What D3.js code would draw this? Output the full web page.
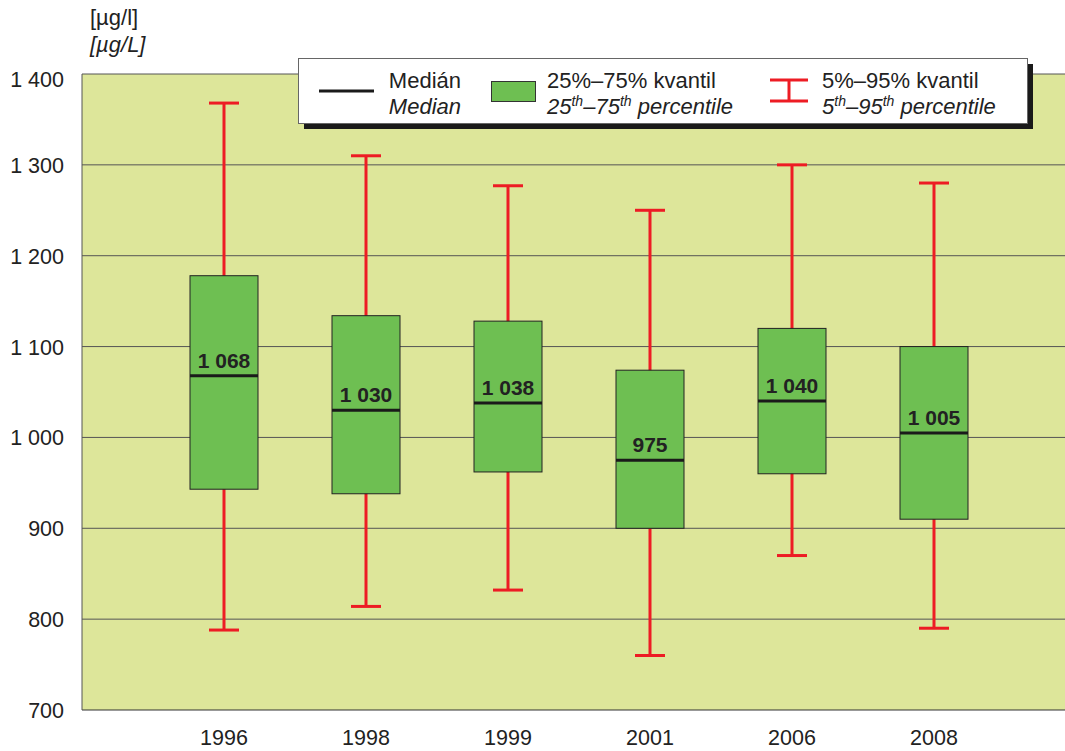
<!DOCTYPE html>
<html>
<head>
<meta charset="utf-8">
<script src="https://cdn.jsdelivr.net/npm/d3@7"></script>
<style>
  body { margin: 0; background: #fff; }
  text { font-family: "Liberation Sans", Arial, sans-serif; }
</style>
</head>
<body>
<div id="chart"></div>
<script>
// Data
const years = ['1996', '1998', '1999', '2001', '2006', '2008'];
const p5 = [788, 814, 832, 760, 870, 790];
const q1 = [943, 938, 962, 900, 960, 910];
const median = [1068, 1030, 1038, 975, 1040, 1005];
const q3 = [1178, 1134, 1128, 1074, 1120, 1100];
const p95 = [1368, 1310, 1277, 1250, 1300, 1280];
const yTicks = [700, 800, 900, 1000, 1100, 1200, 1300, 1400];
const medianLabels = ['1 068', '1 030', '1 038', '975', '1 040', '1 005'];

const width = 1065, height = 751;
const margin = { left: 82, top: 74, right: 0, bottom: 41 };

const svg = d3.select('#chart')
    .append('svg')
    .attr('width', width)
    .attr('height', height);

const step = 142;
const x = d3.scalePoint()
    .domain(years)
    .range([margin.left + step, margin.left + step * years.length]);

const y = d3.scaleLinear()
    .domain([700, 1400])
    .range([height - margin.bottom, margin.top]);

// Plot background
svg.append('rect')
    .attr('x', margin.left)
    .attr('y', y(1400))
    .attr('width', width - margin.left)
    .attr('height', y(700) - y(1400))
    .attr('fill', '#dde69a');

// Gridlines
svg.selectAll('.grid')
    .data(yTicks.slice(1))
    .enter().append('line')
    .attr('x1', margin.left)
    .attr('x2', width)
    .attr('y1', d => y(d))
    .attr('y2', d => y(d))
    .attr('stroke', '#555')
    .attr('stroke-width', 1);

// Axis lines
svg.append('line')
    .attr('x1', margin.left).attr('x2', width)
    .attr('y1', y(700)).attr('y2', y(700))
    .attr('stroke', '#333').attr('stroke-width', 1.2);
svg.append('line')
    .attr('x1', margin.left).attr('x2', margin.left)
    .attr('y1', y(700)).attr('y2', y(1400))
    .attr('stroke', '#555').attr('stroke-width', 1);

// Y tick labels
const fmt = v => d3.format(',')(v).replace(',', ' ');
svg.selectAll('.ytick')
    .data(yTicks)
    .enter().append('text')
    .attr('x', 64)
    .attr('y', d => y(d) + 8 + (d === 1400 ? 5 : 0))
    .attr('text-anchor', 'end')
    .attr('font-size', '21.5px')
    .attr('fill', '#222')
    .text(d => fmt(d));

// X labels
svg.selectAll('.xtick')
    .data(years)
    .enter().append('text')
    .attr('x', d => x(d))
    .attr('y', 745)
    .attr('text-anchor', 'middle')
    .attr('font-size', '21.5px')
    .attr('fill', '#222')
    .text(d => d);

// Unit labels
svg.append('text')
    .attr('x', 90).attr('y', 25)
    .attr('font-size', '22px').attr('fill', '#222')
    .text('[µg/l]');
svg.append('text')
    .attr('x', 90).attr('y', 52)
    .attr('font-size', '22px').attr('font-style', 'italic').attr('fill', '#222')
    .text('[µg/L]');

// Whiskers and boxes
const boxW = 68, capW = 30;
const red = '#ed1c24';
years.forEach((yr, i) => {
    const cx = x(yr);
    svg.append('line')
        .attr('x1', cx).attr('x2', cx)
        .attr('y1', y(p5[i])).attr('y2', y(p95[i]))
        .attr('stroke', red).attr('stroke-width', 3);
    [p5[i], p95[i]].forEach(v => {
        svg.append('line')
            .attr('x1', cx - capW / 2).attr('x2', cx + capW / 2)
            .attr('y1', y(v)).attr('y2', y(v))
            .attr('stroke', red).attr('stroke-width', 3);
    });

    svg.append('rect')
        .attr('x', cx - boxW / 2)
        .attr('y', y(q3[i]))
        .attr('width', boxW)
        .attr('height', y(q1[i]) - y(q3[i]))
        .attr('fill', '#6ebf52')
        .attr('stroke', '#222')
        .attr('stroke-width', 1);

    svg.append('line')
        .attr('x1', cx - boxW / 2).attr('x2', cx + boxW / 2)
        .attr('y1', y(median[i])).attr('y2', y(median[i]))
        .attr('stroke', '#1a1a1a').attr('stroke-width', 3);

    svg.append('text')
        .attr('x', cx)
        .attr('y', y(median[i]) - 8)
        .attr('text-anchor', 'middle')
        .attr('font-size', '21px')
        .attr('font-weight', 'bold')
        .attr('fill', '#222')
        .text(medianLabels[i]);
});

// Legend
const lg = svg.append('g');
lg.append('rect')
    .attr('x', 304).attr('y', 64)
    .attr('width', 729).attr('height', 65)
    .attr('fill', '#1a1a1a');
lg.append('rect')
    .attr('x', 298.5).attr('y', 58.5)
    .attr('width', 729).attr('height', 65)
    .attr('fill', '#fff')
    .attr('stroke', '#666')
    .attr('stroke-width', 1);

const fs = '22px', sup = '14px';
lg.append('line')
    .attr('x1', 319).attr('x2', 374)
    .attr('y1', 91).attr('y2', 91)
    .attr('stroke', '#1a1a1a').attr('stroke-width', 3);
lg.append('text')
    .attr('x', 461).attr('y', 88)
    .attr('text-anchor', 'end')
    .attr('font-size', fs).attr('fill', '#222')
    .text('Medián');
lg.append('text')
    .attr('x', 461).attr('y', 114)
    .attr('text-anchor', 'end')
    .attr('font-size', fs).attr('font-style', 'italic').attr('fill', '#222')
    .text('Median');

lg.append('rect')
    .attr('x', 491.5).attr('y', 81.5)
    .attr('width', 44).attr('height', 20)
    .attr('fill', '#6ebf52')
    .attr('stroke', '#333').attr('stroke-width', 1);
lg.append('text')
    .attr('x', 547).attr('y', 88)
    .attr('font-size', fs).attr('fill', '#222')
    .text('25%–75% kvantil');
const t2 = lg.append('text')
    .attr('x', 547).attr('y', 114)
    .attr('font-size', fs).attr('font-style', 'italic').attr('fill', '#222');
t2.append('tspan').text('25');
t2.append('tspan').attr('font-size', sup).attr('dy', -8).text('th');
t2.append('tspan').attr('dy', 8).text('–75');
t2.append('tspan').attr('font-size', sup).attr('dy', -8).text('th');
t2.append('tspan').attr('dy', 8).text(' percentile');

lg.append('line')
    .attr('x1', 789).attr('x2', 789)
    .attr('y1', 80).attr('y2', 101)
    .attr('stroke', red).attr('stroke-width', 3);
[80, 101].forEach(v => {
    lg.append('line')
        .attr('x1', 770).attr('x2', 808)
        .attr('y1', v).attr('y2', v)
        .attr('stroke', red).attr('stroke-width', 3);
});
lg.append('text')
    .attr('x', 822).attr('y', 88)
    .attr('font-size', fs).attr('fill', '#222')
    .text('5%–95% kvantil');
const t3 = lg.append('text')
    .attr('x', 822).attr('y', 114)
    .attr('font-size', fs).attr('font-style', 'italic').attr('fill', '#222');
t3.append('tspan').text('5');
t3.append('tspan').attr('font-size', sup).attr('dy', -8).text('th');
t3.append('tspan').attr('dy', 8).text('–95');
t3.append('tspan').attr('font-size', sup).attr('dy', -8).text('th');
t3.append('tspan').attr('dy', 8).text(' percentile');
</script>
</body>
</html>
